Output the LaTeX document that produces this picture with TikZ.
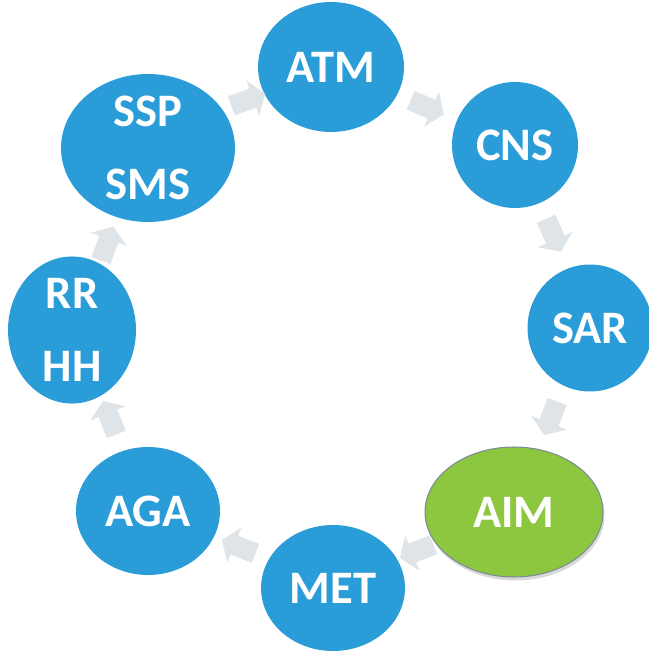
\documentclass[tikz,border=0pt]{standalone}
\usepackage{fontspec}
\setmainfont{Carlito}
\usetikzlibrary{shapes.geometric,shapes.arrows,shadows}
\definecolor{cycblue}{HTML}{2A9CD8}
\definecolor{cycgreen}{HTML}{8DC63F}
\definecolor{cycgray}{HTML}{DFE4E8}
\definecolor{cycline}{HTML}{7D8A99}
\begin{document}
\begin{tikzpicture}[x=0.02cm,y=-0.02cm,
        stage/.style={ellipse,fill=cycblue,text=white,inner sep=0pt,align=center,
            font=\fontsize{26.5}{42}\selectfont\bfseries},
        turn/.style={single arrow,fill=cycgray,draw=none,inner sep=0.13cm,
            minimum height=0.72cm,minimum width=0.76cm,single arrow head extend=0.12cm,
            single arrow tip angle=110}]
    \useasboundingbox (0,0) rectangle (648,651);
    % stages round the circle
    \node[stage,minimum width=2.92cm,minimum height=2.6cm]  (atm)    at (331,67)  {ATM};
    \node[stage,minimum width=2.52cm,minimum height=2.52cm] (cns)    at (515,145) {CNS};
    \node[stage,minimum width=2.5cm,minimum height=2.54cm]  (sar)    at (590,328) {SAR};
    \node[stage,fill=cycgreen,draw=cycline,line width=0.6pt,
          drop shadow={opacity=0.3,shadow xshift=0.03cm,shadow yshift=-0.07cm},
          minimum width=3.56cm,minimum height=2.6cm]          (aim)    at (514,512) {AIM};
    \node[stage,minimum width=2.88cm,minimum height=2.52cm] (met)    at (333,588) {MET};
    \node[stage,minimum width=2.88cm,minimum height=2.56cm] (aga)    at (148,511) {AGA};
    \node[stage,minimum width=2.56cm,minimum height=2.52cm] (rrhh)   at (72,330)  {RR\\HH};
    \node[stage,minimum width=3.48cm,minimum height=2.88cm] (sspsms) at (148,148) {SSP\\SMS};
    % arrows between them
    \node[turn,rotate=20]   (a1) at (245,101) {};
    \node[turn,rotate=-23]  (a2) at (424,106) {};
    \node[turn,rotate=-66]  (a3) at (552,232) {};
    \node[turn,rotate=-111] (a4) at (552,415) {};
    \node[turn,rotate=-158] (a5) at (420,550) {};
    \node[turn,rotate=158]  (a6) at (242,548) {};
    \node[turn,rotate=112]  (a7) at (111,421) {};
    \node[turn,rotate=70]   (a8) at (106,247) {};
\end{tikzpicture}
\end{document}
